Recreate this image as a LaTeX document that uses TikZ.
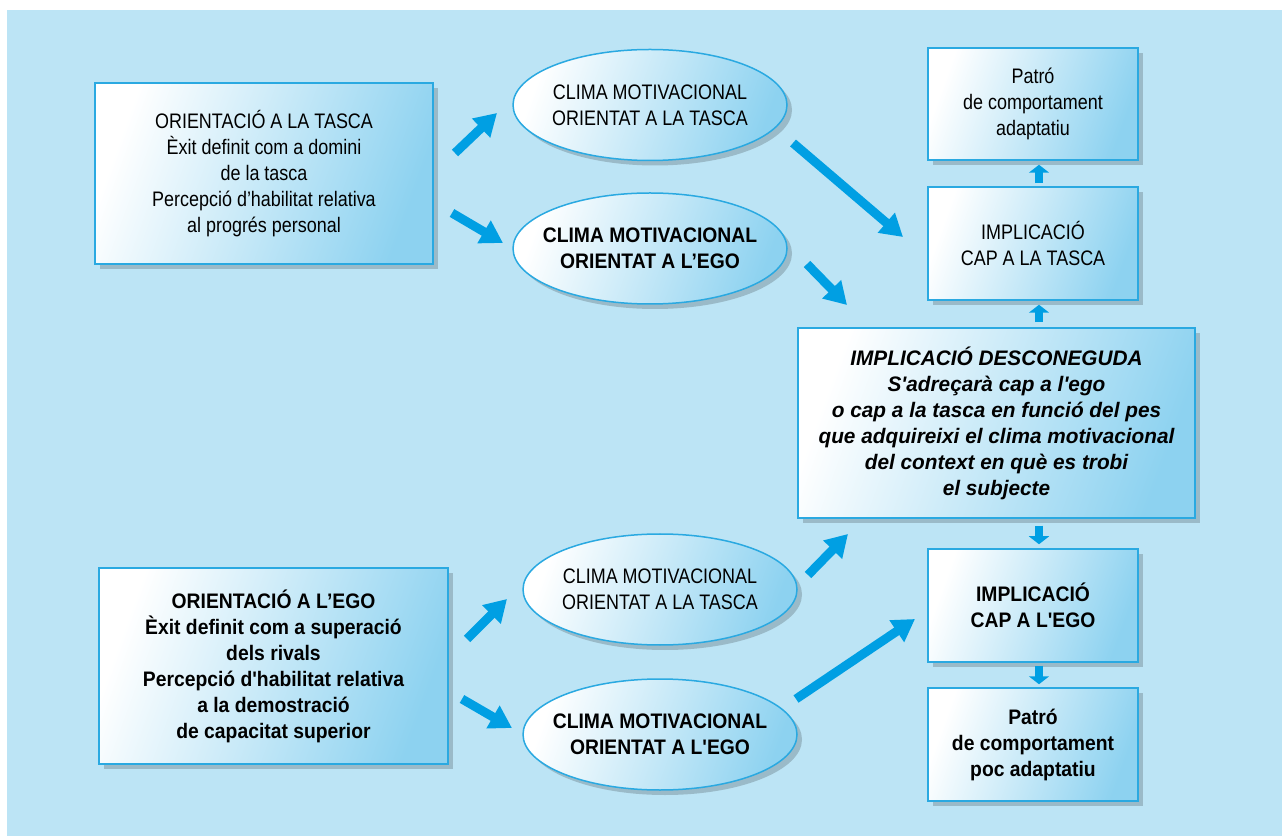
\documentclass[tikz,border=0pt]{standalone}
\usepackage{fontspec}
\setmainfont{Liberation Sans}[FakeStretch=0.855, Ligatures=TeXOff,
  BoldFeatures={FakeStretch=0.92}, BoldItalicFeatures={FakeStretch=0.99}]
\usetikzlibrary{shapes.geometric,shadows,arrows.meta}
\definecolor{bgblue}{HTML}{BCE4F5}
\definecolor{lineblue}{HTML}{2AA9E1}
\definecolor{fillblue}{HTML}{8DD2F0}
\definecolor{arrowblue}{HTML}{009FE3}
\tikzset{
  box/.style={rectangle, draw=lineblue, line width=1.5pt,
    left color=white, right color=fillblue, shading angle=70,
    drop shadow={shadow xshift=5pt, shadow yshift=-5pt, opacity=0.18, fill=black},
    align=center, inner sep=0pt, font=\fontsize{21}{26}\selectfont},
  oval/.style={box, ellipse, inner xsep=-25pt, minimum width=274pt, minimum height=111pt},
  bigarrow/.style={arrowblue, line width=9pt, -{Triangle[length=22pt,width=25pt]}},
  smallarrow/.style={arrowblue, line width=8pt, -{Triangle[length=8pt,width=20pt]}},
}
\begin{document}
\begin{tikzpicture}[x=1pt, y=1pt]
    \useasboundingbox (0,0) rectangle (1282,836);
    \fill[bgblue] (7,0) rectangle (1282,826);

    % left column
    \node[box, minimum width=338pt, minimum height=181pt] (otasca) at (264,662.5)
        {ORIENTACIÓ A LA TASCA\\Èxit definit com a domini\\de la tasca\\Percepció d’habilitat relativa\\al progrés personal};
    \node[box, minimum width=349pt, minimum height=196pt] (oego) at (273.5,170)
        {\bfseries ORIENTACIÓ A L’EGO\\\bfseries Èxit definit com a superació\\\bfseries dels rivals\\\bfseries Percepció d'habilitat relativa\\\bfseries a la demostració\\\bfseries de capacitat superior};

    % climes
    \node[oval] (ctasca1) at (650,731) {CLIMA MOTIVACIONAL\\ORIENTAT A LA TASCA};
    \node[oval, font=\fontsize{21}{26}\selectfont\bfseries] (cego1) at (650,587.5) {CLIMA MOTIVACIONAL\\ORIENTAT A L’EGO};
    \node[oval] (ctasca2) at (660,246.5) {CLIMA MOTIVACIONAL\\ORIENTAT A LA TASCA};
    \node[oval, font=\fontsize{21}{26}\selectfont\bfseries] (cego2) at (660,101.5) {CLIMA MOTIVACIONAL\\ORIENTAT A L'EGO};

    % right column
    \node[box, minimum width=210pt, minimum height=112pt] (padapt) at (1033,732)
        {Patró\\de comportament\\adaptatiu};
    \node[box, minimum width=210pt, minimum height=113pt] (itasca) at (1033,592.5)
        {IMPLICACIÓ\\CAP A LA TASCA};
    \node[box, minimum width=397pt, minimum height=190pt, font=\fontsize{21}{26}\selectfont\bfseries\itshape] (idesc) at (996.5,413)
        {IMPLICACIÓ DESCONEGUDA\\S'adreçarà cap a l'ego\\o cap a la tasca en funció del pes\\que adquireixi el clima motivacional\\del context en què es trobi\\el subjecte};
    \node[box, minimum width=210pt, minimum height=113pt, font=\fontsize{21}{26}\selectfont\bfseries] (iego) at (1033,230.5)
        {IMPLICACIÓ\\CAP A L'EGO};
    \node[box, minimum width=210pt, minimum height=113pt, font=\fontsize{21}{26}\selectfont\bfseries] (ppoc) at (1033,91.5)
        {Patró\\de comportament\\poc adaptatiu};

    % free ends of the big arrows
    \coordinate (a1s) at (455,683); \coordinate (a1e) at (497,723);
    \coordinate (a2s) at (452,623); \coordinate (a2e) at (503,593);
    \coordinate (a3s) at (793,693); \coordinate (a3e) at (903,599);
    \coordinate (a4s) at (807,572); \coordinate (a4e) at (847,531);
    \coordinate (a5s) at (467,197); \coordinate (a5e) at (507,237);
    \coordinate (a6s) at (462,137); \coordinate (a6e) at (512,108);
    \coordinate (a7s) at (808,261); \coordinate (a7e) at (848,302);
    \coordinate (a8s) at (796,137); \coordinate (a8e) at (915,217);
    \foreach \i in {1,...,8}
    {
        \draw[bigarrow] (a\i s) -- (a\i e);
    }

    \draw[smallarrow, shorten <=3pt, shorten >=4pt] ([xshift=6pt]itasca.north) -- ([xshift=6pt]padapt.south);
    \draw[smallarrow, shorten <=5pt, shorten >=4pt] ([xshift=6pt]idesc.north -| itasca) -- ([xshift=6pt]itasca.south);
    \draw[smallarrow, shorten <=7pt, shorten >=4pt] ([xshift=6pt]idesc.south -| iego) -- ([xshift=6pt]iego.north);
    \draw[smallarrow, shorten <=3pt, shorten >=3pt] ([xshift=6pt]iego.south) -- ([xshift=6pt]ppoc.north);
\end{tikzpicture}
\end{document}
